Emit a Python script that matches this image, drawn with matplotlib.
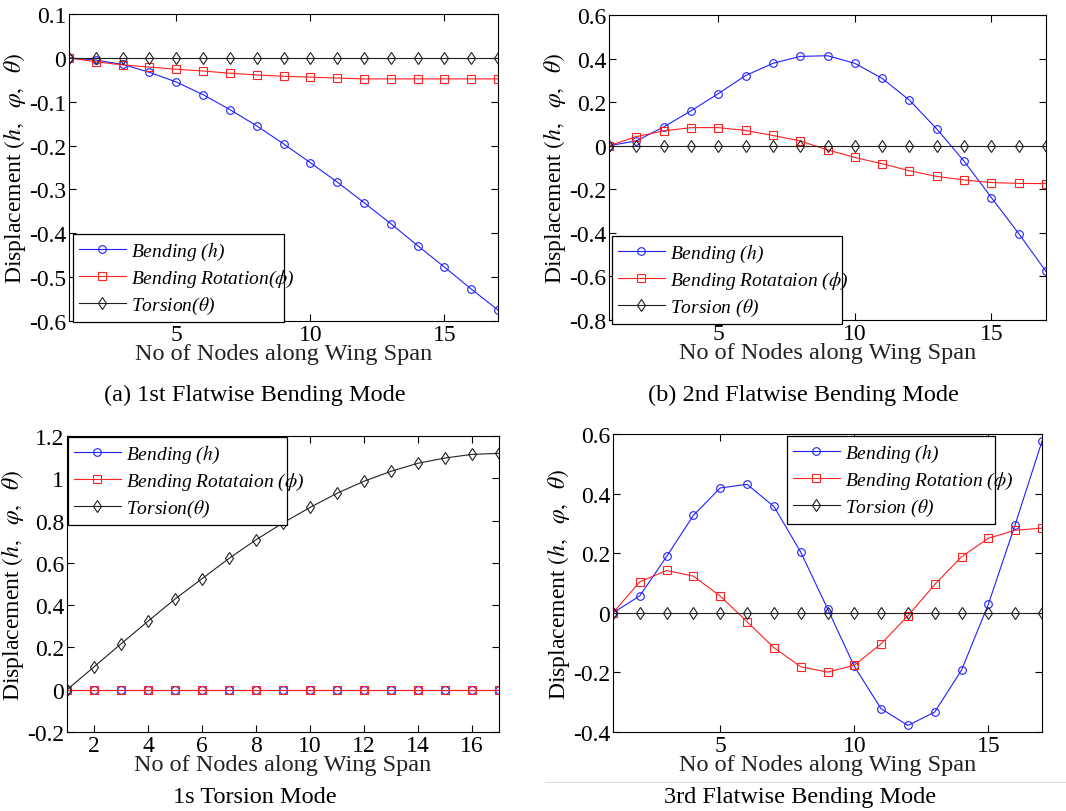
import matplotlib
matplotlib.use("Agg")
import matplotlib.pyplot as plt
import numpy as np

plt.rcParams['font.family'] = ['Liberation Serif', 'DejaVu Serif']
plt.rcParams['mathtext.fontset'] = 'stix'

nodes = np.arange(1, 18)

# (a) 1st flatwise bending mode
a_bend = [0, -0.005, -0.015, -0.033, -0.055, -0.084, -0.118, -0.155, -0.196,
          -0.239, -0.283, -0.330, -0.378, -0.428, -0.477, -0.527, -0.575]
a_rot = [0, -0.009, -0.016, -0.021, -0.026, -0.030, -0.035, -0.039, -0.042,
         -0.044, -0.046, -0.048, -0.048, -0.048, -0.048, -0.048, -0.048]
a_tor = [0] * 17

# (b) 2nd flatwise bending mode
b_bend = [0, 0.022, 0.086, 0.160, 0.239, 0.322, 0.378, 0.410, 0.413,
          0.378, 0.309, 0.209, 0.077, -0.071, -0.238, -0.403, -0.577]
b_rot = [0, 0.042, 0.068, 0.083, 0.083, 0.070, 0.047, 0.022, -0.019,
         -0.054, -0.083, -0.115, -0.141, -0.157, -0.169, -0.173, -0.174]
b_tor = [0] * 17

# (c) 1st torsion mode
c_bend = [0] * 17
c_rot = [0] * 17
c_tor = [0, 0.108, 0.217, 0.324, 0.429, 0.525, 0.621, 0.709, 0.789,
         0.862, 0.929, 0.986, 1.033, 1.071, 1.096, 1.113, 1.118]

# (d) 3rd flatwise bending mode
d_bend = [0, 0.057, 0.189, 0.327, 0.419, 0.431, 0.357, 0.204, 0.014,
          -0.180, -0.322, -0.378, -0.333, -0.192, 0.029, 0.296, 0.576]
d_rot = [0, 0.104, 0.142, 0.123, 0.056, -0.030, -0.117, -0.181, -0.199,
         -0.176, -0.104, -0.010, 0.095, 0.188, 0.250, 0.277, 0.284]
d_tor = [0] * 17

W, H = 1066, 812
fig = plt.figure(figsize=(W / 100, H / 100), dpi=100)


def px_axes(l, t, r, b):
    return fig.add_axes([l / W, 1 - b / H, (r - l) / W, (b - t) / H])


def fmt(v):
    return '0' if abs(v) < 1e-9 else '%g' % v


def panel(box, bend, rot, tor, labels, ylim, yticks, xticks, leg_box, caption, cap_xy):
    ax = px_axes(*box)
    ax.plot(nodes, bend, color='#2020ff', lw=0.8, marker='o', ms=5.5,
            mfc='none', mec='#2020ff', mew=0.8, label=labels[0])
    ax.plot(nodes, rot, color='#ff2020', lw=0.8, marker='s', ms=5.5,
            mfc='none', mec='#ff2020', mew=0.8, label=labels[1])
    ax.plot(nodes, tor, color='#202020', lw=0.8, marker='d', ms=6.5,
            mfc='none', mec='#202020', mew=0.8, label=labels[2])
    ax.set_xlim(1, 17)
    ax.set_ylim(*ylim)
    ax.set_yticks(yticks)
    ax.set_yticklabels([fmt(v) for v in yticks])
    ax.set_xticks(xticks)
    ax.tick_params(direction='in', top=True, right=True, labelsize=17, length=5, pad=2)
    for s in ax.spines.values():
        s.set_linewidth(0.8)
    ax.set_xlabel('No of Nodes along Wing Span', fontsize=17.5, labelpad=-1, color='#222222')
    ax.set_ylabel(r'Displacement $(h,\ \ \varphi,\ \ \theta)$', fontsize=17, labelpad=1)
    l, t, r, b = leg_box
    leg = ax.legend(loc='upper left', bbox_to_anchor=(l / W, 1 - b / H, (r - l) / W, (b - t) / H),
                    bbox_transform=fig.transFigure, mode='expand', fancybox=False,
                    framealpha=1, edgecolor='black', borderaxespad=0,
                    prop={'style': 'italic', 'size': 14}, handlelength=2.4,
                    labelspacing=0.3, borderpad=0.3, handletextpad=0.3)
    leg.get_frame().set_linewidth(0.9)
    fig.text(cap_xy[0] / W, 1 - cap_xy[1] / H, caption, ha='center', va='center', fontsize=17.5)
    return ax


panel((69, 15, 498, 322), a_bend, a_rot, a_tor,
      [r'Bending ($h$)', r'Bending Rotation($\phi$)', r'Torsion($\theta$)'],
      (-0.6, 0.1), np.round(np.arange(-0.6, 0.11, 0.1), 1), [5, 10, 15],
      (73, 235, 284, 318), '(a) 1st Flatwise Bending Mode', (255, 395))

panel((609, 16, 1046, 321), b_bend, b_rot, b_tor,
      [r'Bending ($h$)', r'Bending Rotataion ($\phi$)', r'Torsion ($\theta$)'],
      (-0.8, 0.6), np.round(np.arange(-0.8, 0.61, 0.2), 1), [5, 10, 15],
      (612, 237, 842, 319), '(b) 2nd Flatwise Bending Mode', (803, 395))

panel((67, 437, 499, 733), c_bend, c_rot, c_tor,
      [r'Bending ($h$)', r'Bending Rotataion ($\phi$)', r'Torsion($\theta$)'],
      (-0.2, 1.2), np.round(np.arange(-0.2, 1.21, 0.2), 1), list(range(2, 17, 2)),
      (68, 438, 287, 517), '1s Torsion Mode', (255, 798))

panel((613, 435, 1042, 733), d_bend, d_rot, d_tor,
      [r'Bending ($h$)', r'Bending Rotation ($\phi$)', r'Torsion ($\theta$)'],
      (-0.4, 0.6), np.round(np.arange(-0.4, 0.61, 0.2), 1), [5, 10, 15],
      (787, 437, 995, 514), '3rd Flatwise Bending Mode', (800, 798))

fig.add_artist(plt.Line2D([545 / W, 1.0], [1 - 783 / H, 1 - 783 / H],
                          transform=fig.transFigure, color='#dddddd', lw=0.8))

fig.savefig('out.png', dpi=100)
